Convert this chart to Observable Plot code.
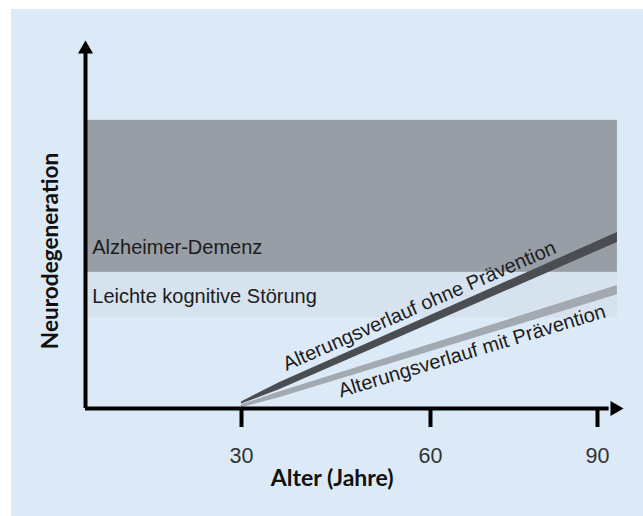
<!DOCTYPE html>
<html><head><meta charset="utf-8">
<script src="https://cdn.jsdelivr.net/npm/d3@7"></script>
<script src="https://cdn.jsdelivr.net/npm/@observablehq/plot@0.6"></script>
<style>
body{margin:0;background:#fff;}
#wrap{position:relative;width:643px;height:516px;overflow:hidden;}
#bg{position:absolute;left:11px;top:9px;right:0;bottom:0;background:#dce9f6;}
#chart{position:absolute;left:0;top:0;}
</style></head><body>
<div id="wrap"><div id="bg"></div><div id="chart"></div></div>
<script>
// ---- data ----
const xTicks = [30, 60, 90];
const xLabel = "Alter (Jahre)";
const yLabel = "Neurodegeneration";

const zoneNames = ["Leichte kognitive Störung", "Alzheimer-Demenz"];
const zoneLow = [24.7, 37.0];
const zoneHigh = [37.0, 78.3];
const zoneAgeEnd = 93.6;
const zoneLabelY = [30.4, 43.75];

const ages = [30, 36, 93.6];
const ohneLow = [1.2, 5.1, 45.1];
const ohneHigh = [1.8, 7.0, 47.8];
const mitLow = [0.2, 2.9, 30.9];
const mitHigh = [1.0, 4.5, 33.4];

const lineNames = ["Alterungsverlauf ohne Prävention", "Alterungsverlauf mit Prävention"];
const lineLabelAge = [58.25, 67.45];
const lineLabelY = [27.9, 15.6];
const lineLabelAngle = [-23.6, -16.8];

const axisEndX = 94.7;   // tip of the x arrow (age)
const axisEndY = 100;    // tip of the y arrow

// ---- tables ----
const zones = zoneNames.map((name, i) => ({name, low: zoneLow[i], high: zoneHigh[i], ly: zoneLabelY[i]}));
const ohne = ages.map((a, i) => ({age: a, low: ohneLow[i], high: ohneHigh[i]}));
const mit = ages.map((a, i) => ({age: a, low: mitLow[i], high: mitHigh[i]}));
const lineLabels = lineNames.map((name, i) => ({name, age: lineLabelAge[i], y: lineLabelY[i], angle: lineLabelAngle[i]}));

const sans = "Liberation Sans, Arial, Helvetica, sans-serif";
const bold = "Lato, Liberation Sans, Arial, sans-serif";

const chart = Plot.plot({
  width: 643,
  height: 516,
  marginLeft: 85,
  marginRight: 20,
  marginTop: 40,
  marginBottom: 108,
  style: {background: "transparent", fontFamily: sans},
  x: {type: "linear", domain: [0, 30, 60, 90, axisEndX], range: [85, 241, 430, 597, 623]},
  y: {domain: [0, 100], axis: null},
  marks: [
    Plot.rect(zones, {x1: 0, x2: zoneAgeEnd, y1: "low", y2: "high",
      fill: (d, i) => i === 0 ? "#d6e2ee" : "#979ea6"}),
    Plot.text(zones, {x: 1.3, y: "ly", text: "name", textAnchor: "start",
      fontSize: 20, fontFamily: sans, fill: "#1c1c1c"}),
    Plot.areaY(mit, {x: "age", y1: "low", y2: "high", fill: "#a3a9b1"}),
    Plot.areaY(ohne, {x: "age", y1: "low", y2: "high", fill: "#4a4d52"}),
    Plot.text(lineLabels, {x: "age", y: "y", text: "name", rotate: "angle",
      fontSize: 20, fontFamily: sans, fill: "#1c1c1c"}),
    // axis lines with arrowheads
    Plot.ruleX([0], {y1: 0, y2: axisEndY - 2.4, stroke: "#000", strokeWidth: 4}),
    Plot.ruleY([0], {x1: 0, x2: axisEndX - 2.6, stroke: "#000", strokeWidth: 4}),
    Plot.dot([0], {x: 0, y: axisEndY, dy: 8.66, symbol: "triangle", r: 5.6, fill: "#000", stroke: null}),
    Plot.dot([0], {x: axisEndX, y: 0, dx: -8.66, symbol: "triangle", r: 5.6, rotate: 90, fill: "#000", stroke: null}),
    Plot.axisX({ticks: xTicks, tickSize: 19, tickPadding: 20, strokeWidth: 4, stroke: "#000",
      fontSize: 21.5, fill: "#333", label: null}),
    Plot.text([xLabel], {x: 44.4, frameAnchor: "bottom", dy: 77, fontSize: 23,
      fontWeight: "bold", fontFamily: bold, fill: "#111"}),
    Plot.text([yLabel], {x: 0, y: 42.8, dx: -35, rotate: -90, fontSize: 22.6,
      fontWeight: "bold", fontFamily: bold, fill: "#111"})
  ]
});
document.getElementById("chart").appendChild(chart);
</script>
</body></html>
